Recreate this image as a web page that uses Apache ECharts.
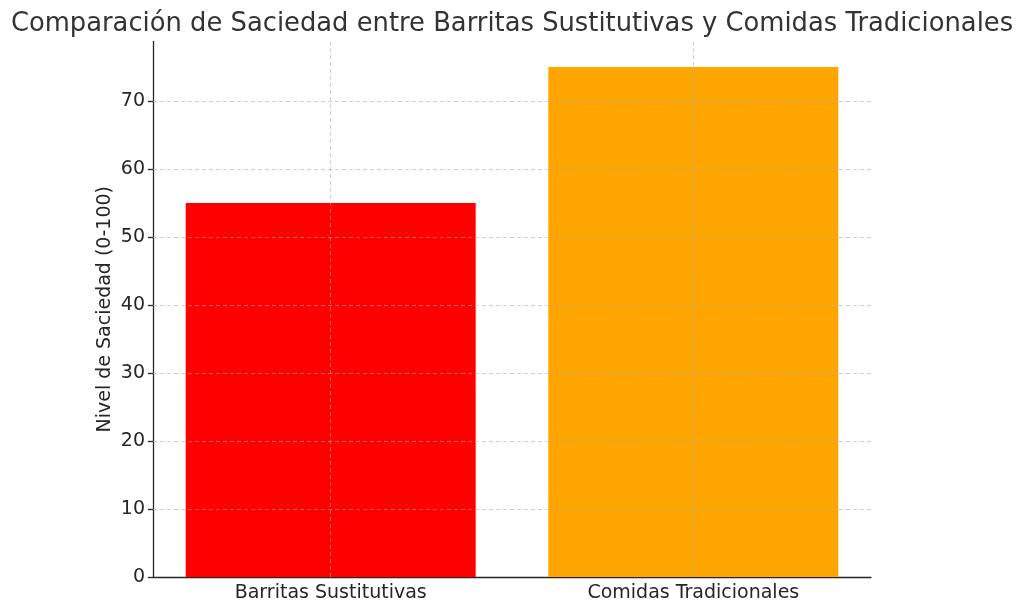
<!DOCTYPE html>
<html>
<head>
<meta charset="utf-8">
<title>Saciedad</title>
<script src="https://cdn.jsdelivr.net/npm/echarts@6/dist/echarts.min.js"></script>
<style>
  html, body { margin: 0; padding: 0; background: #fff; }
  #chart { width: 1024px; height: 613px; }
</style>
</head>
<body>
<div id="chart"></div>
<script>
// datos
var categories = ["Barritas Sustitutivas", "Comidas Tradicionales"];
var saciedad = [55, 75];
var yTicks = [0, 10, 20, 30, 40, 50, 60, 70];
var barColors = ["#ff0000", "#ffa500"];

var FONT = "DejaVu Sans";
var INK = "#262626";
var GRID = "rgba(176,176,176,0.6)";

var xIdx = categories.map(function (c, i) { return i; });

// rejilla encima de las barras, como en el original
var gridLines = yTicks.filter(function (v) { return v > 0; })
  .map(function (v) { return { yAxis: v }; })
  .concat(xIdx.map(function (i) { return { xAxis: i }; }));

var chart = echarts.init(document.getElementById("chart"));
chart.setOption({
  animation: false,
  title: {
    text: "Comparación de Saciedad entre Barritas Sustitutivas y Comidas Tradicionales",
    left: "center",
    top: 6,
    textStyle: { fontFamily: FONT, fontSize: 25.8, fontWeight: "normal", color: "#333" }
  },
  grid: { left: 153, right: 153, top: 41.5, bottom: 36 },
  xAxis: {
    type: "value",
    min: -0.49,
    max: 1.49,
    axisLine: { show: true, onZero: false, lineStyle: { color: INK, width: 1.3 } },
    axisTick: { show: true, inside: true, length: 5, customValues: xIdx, lineStyle: { color: INK, width: 1.3 } },
    axisLabel: {
      customValues: xIdx,
      margin: 7,
      fontFamily: FONT,
      fontSize: 19,
      color: INK,
      formatter: function (v) { return categories[Math.round(v)]; }
    },
    splitLine: { show: false }
  },
  yAxis: {
    type: "value",
    min: 0,
    max: 78.75,
    name: "Nivel de Saciedad (0-100)",
    nameLocation: "middle",
    nameGap: 38,
    nameMoveOverlap: false,
    nameTextStyle: { fontFamily: FONT, fontSize: 19, color: INK },
    axisLine: { show: true, onZero: false, lineStyle: { color: INK, width: 1.3 } },
    axisTick: { show: true, length: 5, customValues: yTicks, lineStyle: { color: INK, width: 1.3 } },
    axisLabel: { customValues: yTicks, margin: 8, padding: [4, 0, 0, 0], fontFamily: FONT, fontSize: 19, color: INK },
    splitLine: { show: false }
  },
  series: [{
    type: "bar",
    barWidth: 290,
    data: saciedad.map(function (v, i) {
      return { value: [i, v], itemStyle: { color: barColors[i] } };
    }),
    markLine: {
      silent: true,
      symbol: "none",
      label: { show: false },
      lineStyle: { color: GRID, type: [4, 3], width: 1 },
      emphasis: { disabled: true },
      data: gridLines
    }
  }]
});
</script>
</body>
</html>
